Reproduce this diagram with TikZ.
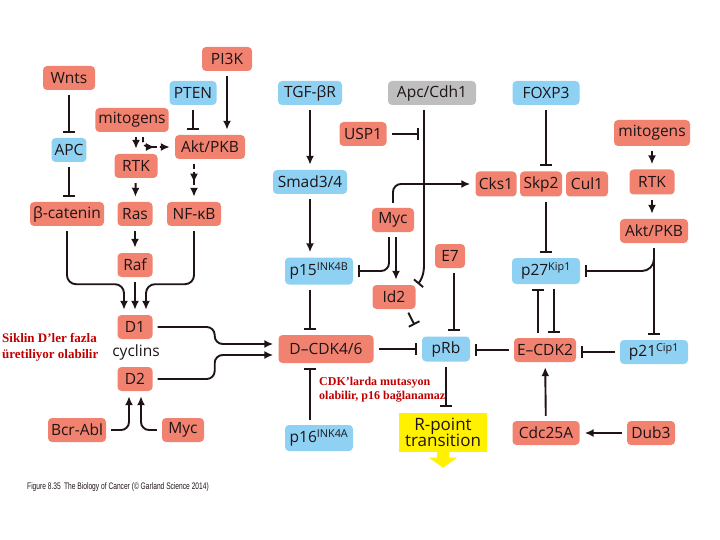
\documentclass[tikz,border=0pt]{standalone}
\usepackage{fontspec}
\usepackage{tikz}
\usetikzlibrary{arrows.meta,decorations.markings}
\newfontfamily\diagfont{Open Sans}
\newfontfamily\notefont{Liberation Serif}
\newfontfamily\capfont{Liberation Sans}
\newcommand{\boxfont}{\diagfont\fontsize{15.5}{17}\selectfont}
\definecolor{salmon}{HTML}{F0826F}
\definecolor{skyblue}{HTML}{8ED1F3}
\definecolor{greybox}{HTML}{BEBEBE}
\definecolor{rptyellow}{HTML}{FFF100}
\definecolor{ink}{HTML}{1E1416}
\definecolor{notered}{HTML}{C00000}
\tikzstyle{gene} = [rounded corners=4pt, fill=salmon, text=ink,
  minimum height=24pt, inner xsep=3pt, inner ysep=2pt]
\tikzstyle{supp} = [gene, fill=skyblue]
\tikzstyle{actedge} = [line width=1.9pt, draw=ink, -{Latex[length=9pt,width=8pt]},
  shorten <=5pt, shorten >=5pt]
\tikzstyle{inhedge} = [line width=1.9pt, draw=ink, -{Bar[width=12pt]},
  shorten <=5pt, shorten >=5pt]
\tikzstyle{indedge} = [actedge, dash pattern=on 5pt off 3pt, postaction={decorate},
  decoration={markings, mark=at position 0.55 with {\arrow{Latex[length=9pt,width=8pt]}}}]

\begin{document}
\begin{tikzpicture}[x=1pt, y=-1pt, every node/.style={font=\boxfont}]
    \useasboundingbox (0,0) rectangle (720,540);
    % left part: mitogenic signals to the D cyclins
    \node[gene,minimum width=52] (wnts) at (69,78) {Wnts};
    \node[supp,minimum width=33] (apc) at (69,150) {APC};
    \node[gene,minimum width=74] (bcat) at (67,214) {β-catenin};
    \node[gene,minimum width=50] (pi3k) at (227,59) {PI3K};
    \node[supp,minimum width=47] (pten) at (193,93) {PTEN};
    \node[gene,minimum width=72] (mitol) at (132,120) {mitogens};
    \node[gene,minimum width=70] (akt) at (210,147) {Akt/PKB};
    \node[gene,minimum width=43] (rtk) at (136,166) {RTK};
    \node[gene,minimum width=35] (ras) at (135,214) {Ras};
    \node[gene,minimum width=54] (nfkb) at (194,214) {NF-κB};
    \node[gene,minimum width=35] (raf) at (135,265) {Raf};
    \node[gene,minimum width=35] (dA) at (135,327) {D1};
    \node[text=ink] (cyclins) at (136,352) {cyclins};
    \node[gene,minimum width=35] (dB) at (135,379) {D2};
    \node[gene,minimum width=58] (bcr) at (77,430) {Bcr-Abl};
    \node[gene,minimum width=42] (mycl) at (183,430) {Myc};

    % middle part: pRb and its regulators
    \node[supp,minimum width=64] (tgf) at (310,93) {TGF-βR};
    \node[gene,fill=greybox,minimum width=88] (apccdh) at (432,93) {Apc/Cdh1};
    \node[gene,minimum width=47] (usp) at (363,134) {USP1};
    \node[supp,minimum width=74] (smad) at (310,182) {Smad3/4};
    \node[gene,minimum width=42] (mycm) at (393,220) {Myc};
    \node[gene,minimum width=30] (e7) at (450,256) {E7};
    \node[supp,minimum width=68,minimum height=27] (p15) at (319,271) {p15\textsuperscript{INK4B}};
    \node[gene,minimum width=43] (id2) at (394,297) {Id2};
    \node[gene,minimum width=95,minimum height=28] (dcdk) at (326,349) {D–CDK4/6};
    \node[supp,minimum width=48,minimum height=25] (prb) at (446,349) {pRb};
    \node[supp,minimum width=68,minimum height=26] (p16) at (319,438) {p16\textsuperscript{INK4A}};
    \node[gene,fill=rptyellow,minimum width=88,minimum height=39,align=center,
        rounded corners=0pt,inner ysep=1pt,
        font=\diagfont\fontsize{17}{18}\selectfont] (rpt) at (443,432) {R-point\\[-2pt]transition};
    \fill[rptyellow] ([xshift=-6pt]rpt.south) -- ++(0,6) -- ++(-8,0) -- ++(14,10)
        -- ++(14,-10) -- ++(-8,0) -- ++(0,-6) -- cycle;

    % right part: E-CDK2 and its regulators
    \node[supp,minimum width=67] (foxp3) at (546,93) {FOXP3};
    \node[gene,minimum width=76,minimum height=26] (mitor) at (652,133) {mitogens};
    \node[gene,minimum width=41,minimum height=25] (cks1) at (496,184) {Cks1};
    \node[gene,minimum width=42,minimum height=25] (skp2) at (541,184) {Skp2};
    \node[gene,minimum width=42,minimum height=25] (cul1) at (587,184) {Cul1};
    \node[gene,minimum width=45,minimum height=25] (rtkr) at (652,182) {RTK};
    \node[gene,minimum width=68] (aktr) at (654,231) {Akt/PKB};
    \node[supp,minimum width=68,minimum height=26] (p27) at (546,271) {p27\textsuperscript{Kip1}};
    \node[gene,minimum width=62] (ecdk) at (545,350) {E–CDK2};
    \node[supp,minimum width=68] (p21) at (654,352) {p21\textsuperscript{Cip1}};
    \node[gene,minimum width=67] (cdc) at (546,433) {Cdc25A};
    \node[gene,minimum width=48] (dub3) at (651,433) {Dub3};

    % connectors, left
    \draw[inhedge] (wnts) -- (apc);
    \draw[inhedge] (apc.south) -- (apc.south |- bcat.north);
    \draw[inhedge] (pten) -- (pten |- akt.north);
    \draw[actedge] (pi3k.south) -- (pi3k.south |- akt.north);
    \draw[actedge] (mitol.south -| rtk) -- (rtk);
    \draw[indedge, rounded corners=6pt] ([xshift=11pt]mitol.south) |- (akt.west);
    \draw[indedge] (nfkb.north |- akt.south) -- (nfkb.north);
    \draw[actedge] (rtk) -- (ras);
    \draw[actedge] (ras) -- (raf);
    \draw[actedge] (raf) -- (dA);
    \draw[actedge, rounded corners=9pt] (bcat.south) -- ++(0,58) -| ([xshift=-11pt]dA.north);
    \draw[actedge, rounded corners=9pt] (nfkb.south) -- ++(0,58) -| ([xshift=11pt]dA.north);
    \draw[actedge, rounded corners=8pt] (dA.east) -- ++(62,0) |- ([yshift=5pt]dcdk.west);
    \draw[actedge, rounded corners=8pt] (dB.east) -- ++(62,0) |- ([yshift=-6pt]dcdk.west);
    \draw[actedge, rounded corners=8pt] (bcr.east) -| ([xshift=-6pt]dB.south);
    \draw[actedge, rounded corners=8pt] (mycl.west) -| ([xshift=6pt]dB.south);

    % connectors, middle
    \draw[actedge] (tgf) -- (smad);
    \draw[actedge] (smad.south) -- (smad.south |- p15.north);
    \draw[inhedge] ([xshift=-9pt]p15.south) -- ([xshift=-9pt]p15.south |- dcdk.north);
    \draw[inhedge] ([xshift=-9pt]p16.north) -- ([xshift=-9pt]p16.north |- dcdk.south);
    \draw[inhedge] ([xshift=-8pt]apccdh.south) -- ++(0,160)
        to[out=-90,in=50] ([xshift=-1pt,yshift=-3pt]id2.north east);
    \draw[inhedge] (usp.east) -- ([xshift=37pt]usp.east);
    \draw[actedge, rounded corners=8pt] (mycm.north) |- (cks1.west);
    \draw[inhedge, rounded corners=8pt] ([xshift=-4pt]mycm.south) |- (p15.east);
    \draw[actedge] ([xshift=3pt]mycm.south) -- ([xshift=3pt]mycm.south |- id2.north);
    \draw[inhedge] ([xshift=12pt,yshift=1pt]id2.south) -- ([xshift=-5pt,yshift=7pt]prb.north west);
    \draw[inhedge] ([xshift=4pt]e7.south) -- ([xshift=4pt]e7.south |- prb.north);
    \draw[inhedge] (dcdk.east) -- (prb.west);
    \draw[inhedge] (ecdk.west) -- (ecdk.west -| prb.east);
    \draw[inhedge] (prb.south) -- (prb.south |- rpt.north);

    % connectors, right
    \draw[inhedge] (foxp3) -- (foxp3 |- skp2.north);
    \draw[inhedge] (skp2.south -| p27) -- (p27);
    \draw[actedge] (mitor) -- (rtkr);
    \draw[actedge] (rtkr.south) -- (rtkr.south |- aktr.north);
    \draw[inhedge] (aktr) -- (p21);
    \draw[inhedge, rounded corners=12pt] (aktr.south) |- (p27.east);
    \draw[inhedge] ([xshift=-7pt]ecdk.north) -- ([xshift=-7pt]ecdk.north |- p27.south);
    \draw[inhedge] ([xshift=8pt]p27.south) -- ([xshift=8pt]p27.south |- ecdk.north);
    \draw[inhedge] (p21.west) -- (p21.west -| ecdk.east);
    \draw[actedge] (cdc) -- (ecdk);
    \draw[actedge] (dub3) -- (cdc);

    % notes and caption
    \node[anchor=west,inner sep=0pt,align=left,text=notered,
        font=\notefont\bfseries\fontsize{13}{16}\selectfont] (noteD) at (2,347)
        {Siklin D’ler fazla\\üretiliyor olabilir};
    \node[anchor=west,inner sep=0pt,align=left,text=notered,
        font=\notefont\bfseries\fontsize{12}{14}\selectfont] (noteCDK) at (319,390)
        {CDK’larda mutasyon\\olabilir, p16 bağlanamaz};
    \node[anchor=west,inner sep=0pt,text=ink,font=\capfont\fontsize{9.5}{10}\selectfont]
        (caption) at (27,487)
        {\scalebox{0.7}[1]{Figure 8.35\enspace The Biology of Cancer (© Garland Science 2014)}};
\end{tikzpicture}
\end{document}
